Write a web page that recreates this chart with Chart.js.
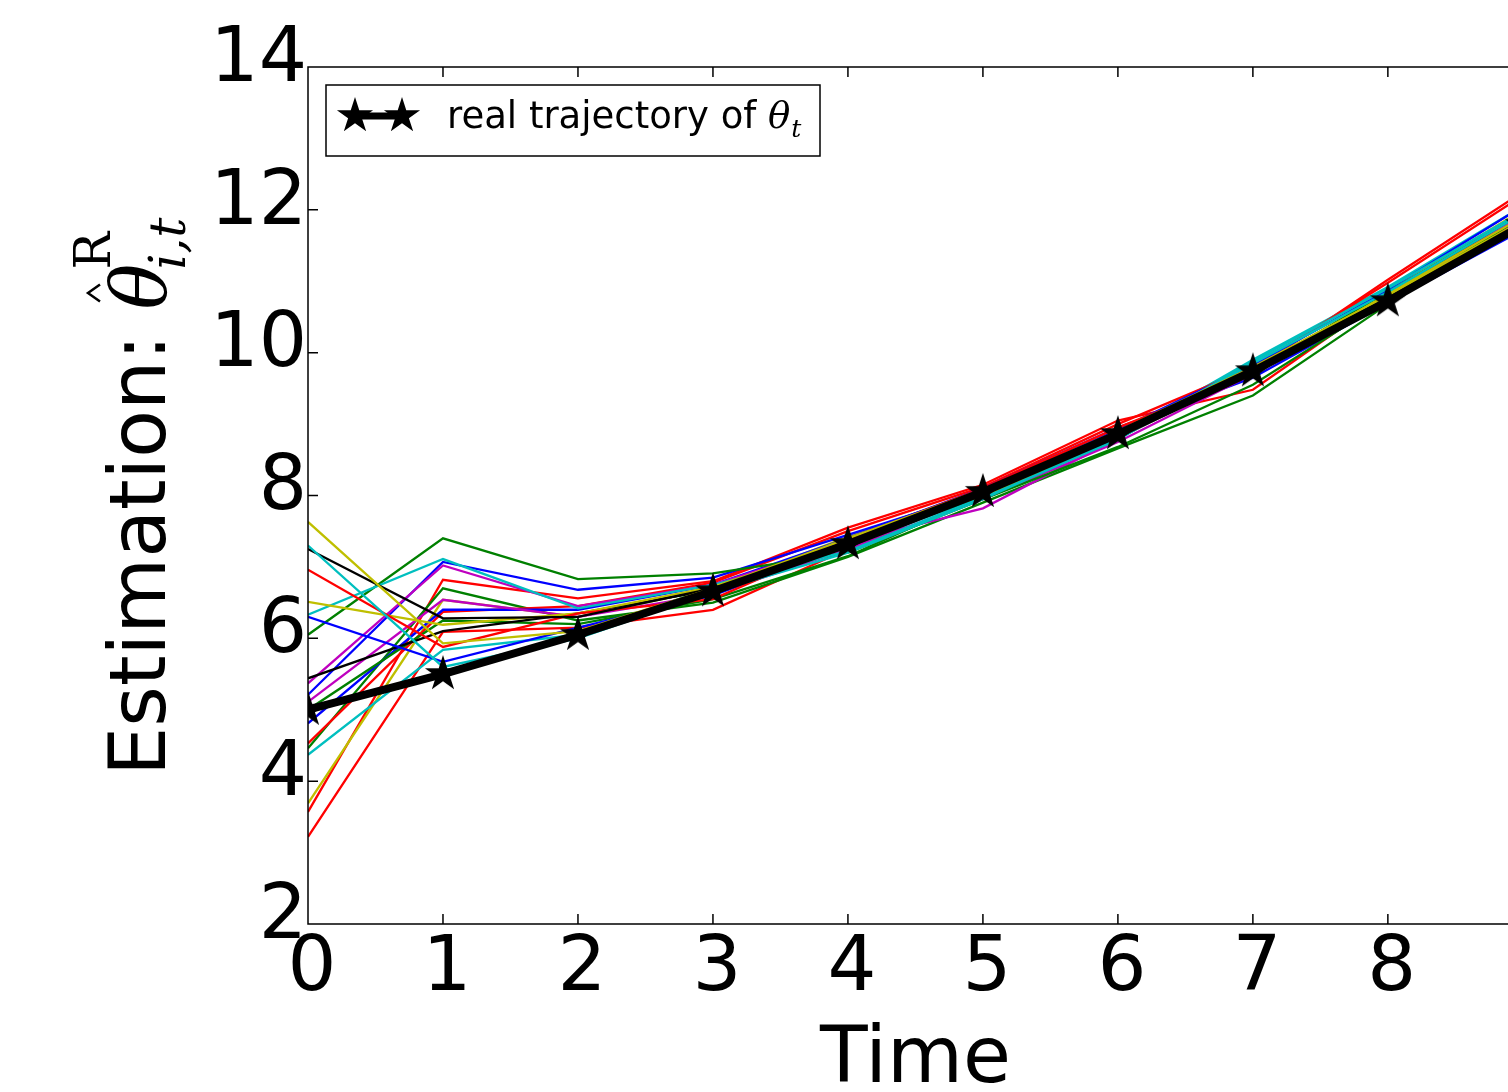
<!DOCTYPE html>
<html>
<head>
<meta charset="utf-8">
<script src="https://cdn.jsdelivr.net/npm/chart.js@4.4.1/dist/chart.umd.min.js"></script>
<style>
  html, body { margin: 0; padding: 0; background: #fff; overflow: hidden; }
  #wrap { width: 1508px; height: 1092px; position: relative; }
</style>
</head>
<body>
<div id="wrap"><canvas id="estChart"></canvas></div>
<script>
const timeSteps = [0, 1, 2, 3, 4, 5, 6, 7, 8, 9];
const xTicks = [0, 1, 2, 3, 4, 5, 6, 7, 8];
const yTicks = [2, 4, 6, 8, 10, 12, 14];

const realTrajectory = [5.0, 5.5, 6.05, 6.66, 7.32, 8.05, 8.86, 9.74, 10.72, 11.79];

// per-agent estimates (one line each)
const agent1 = [7.63, 5.93, 6.10, 6.70, 7.40, 8.08, 8.90, 9.80, 10.80, 11.85];
const agent2 = [7.30, 5.60, 6.00, 6.65, 7.20, 7.95, 8.80, 9.85, 10.85, 11.95];
const agent3 = [7.25, 6.28, 6.30, 6.70, 7.30, 8.05, 8.85, 9.75, 10.78, 11.80];
const agent4 = [6.96, 5.88, 6.35, 6.55, 7.38, 8.10, 8.95, 9.70, 10.75, 11.85];
const agent5 = [6.51, 6.19, 6.35, 6.72, 7.35, 8.00, 8.82, 9.72, 10.82, 11.90];
const agent6 = [6.33, 7.11, 6.42, 6.75, 7.22, 7.98, 8.78, 9.88, 10.90, 11.98];
const agent7 = [6.30, 5.67, 6.15, 6.60, 7.30, 8.02, 8.88, 9.78, 10.70, 11.75];
const agent8 = [6.05, 7.40, 6.83, 6.91, 7.20, 7.95, 8.68, 9.55, 10.75, 11.90];
const agent9 = [5.44, 6.10, 6.35, 6.68, 7.28, 8.05, 8.85, 9.75, 10.72, 11.78];
const agent10 = [5.37, 7.02, 6.45, 6.75, 7.35, 7.82, 8.80, 9.78, 10.80, 11.88];
const agent11 = [5.21, 7.07, 6.68, 6.85, 7.45, 8.05, 8.92, 9.82, 10.88, 12.05];
const agent12 = [5.11, 6.54, 6.30, 6.62, 7.25, 7.95, 8.75, 9.70, 10.78, 11.92];
const agent13 = [5.00, 6.25, 6.20, 6.55, 7.15, 8.00, 8.80, 9.75, 10.85, 11.95];
const agent14 = [4.81, 6.40, 6.40, 6.75, 7.40, 8.10, 8.95, 9.65, 10.70, 11.72];
const agent15 = [4.53, 6.37, 6.45, 6.78, 7.50, 8.12, 9.00, 9.80, 10.98, 12.20];
const agent16 = [4.46, 6.70, 6.25, 6.50, 7.14, 7.90, 8.66, 9.40, 10.68, 11.80];
const agent17 = [4.37, 5.84, 6.05, 6.72, 7.28, 8.00, 8.82, 9.90, 10.92, 12.05];
const agent18 = [3.69, 6.54, 6.30, 6.70, 7.42, 8.08, 8.90, 9.85, 10.85, 12.00];
const agent19 = [3.57, 6.82, 6.56, 6.80, 7.55, 8.15, 9.05, 9.48, 10.80, 11.95];
const agent20 = [3.22, 6.09, 6.15, 6.40, 7.25, 8.05, 8.85, 9.75, 11.02, 12.25];

const agentSeries = [agent1, agent2, agent3, agent4, agent5, agent6, agent7, agent8, agent9, agent10,
  agent11, agent12, agent13, agent14, agent15, agent16, agent17, agent18, agent19, agent20];
const agentColors = ["#bfbf00", "#00bfbf", "#000000", "#ff0000", "#bfbf00", "#00bfbf", "#0000ff",
  "#008000", "#000000", "#bf00bf", "#0000ff", "#bf00bf", "#008000", "#0000ff", "#ff0000",
  "#008000", "#00bfbf", "#bfbf00", "#ff0000", "#ff0000"];

const TICK_FONT = '"DejaVu Sans", sans-serif';

function makeStar(r) {
  const size = Math.ceil(r * 2 + 4);
  const c = document.createElement("canvas");
  c.width = size;
  c.height = size;
  const g = c.getContext("2d");
  drawStar(g, size / 2, size / 2, r);
  return c;
}

function drawStar(g, cx, cy, r) {
  g.beginPath();
  for (let k = 0; k < 10; k++) {
    const rad = k % 2 === 0 ? r : r * 0.382;
    const ang = -Math.PI / 2 + (k * Math.PI) / 5;
    g.lineTo(cx + rad * Math.cos(ang), cy + rad * Math.sin(ang));
  }
  g.closePath();
  g.fillStyle = "#000";
  g.fill();
}

const starImg = makeStar(19);

const toPoints = (arr) => arr.map((v, i) => ({ x: timeSteps[i], y: v }));

const datasets = [
  {
    data: toPoints(realTrajectory),
    borderColor: "#000",
    borderWidth: 8,
    pointStyle: starImg,
    pointRadius: 12,
    tension: 0,
    clip: 0,
  },
];
agentSeries.forEach((arr, i) => {
  datasets.push({
    data: toPoints(arr),
    borderColor: agentColors[i],
    borderWidth: 2.3,
    pointRadius: 0,
    tension: 0,
    clip: 0,
  });
});

// frame, inward ticks, axis titles, legend
const decorations = {
  id: "decorations",
  afterDraw(chart) {
    const { ctx, chartArea: a, scales } = chart;
    const xs = scales.x;
    const ys = scales.y;
    ctx.save();
    ctx.strokeStyle = "#000";
    ctx.lineWidth = 1.5;
    ctx.beginPath();
    ctx.moveTo(a.right + 2, a.top);
    ctx.lineTo(a.left, a.top);
    ctx.lineTo(a.left, a.bottom);
    ctx.lineTo(a.right + 2, a.bottom);
    xTicks.forEach((v) => {
      const px = xs.getPixelForValue(v);
      ctx.moveTo(px, a.bottom);
      ctx.lineTo(px, a.bottom - 10);
      ctx.moveTo(px, a.top);
      ctx.lineTo(px, a.top + 10);
    });
    yTicks.forEach((v) => {
      const py = ys.getPixelForValue(v);
      ctx.moveTo(a.left, py);
      ctx.lineTo(a.left + 10, py);
    });
    ctx.stroke();

    ctx.fillStyle = "#000";
    // x title
    ctx.font = "78px " + TICK_FONT;
    ctx.textAlign = "center";
    ctx.textBaseline = "alphabetic";
    ctx.fillText("Time", xs.getPixelForValue(4.5), 1082);

    // y title, rotated
    ctx.save();
    ctx.translate(165, 776);
    ctx.rotate(-Math.PI / 2);
    ctx.textAlign = "left";
    ctx.font = "78px " + TICK_FONT;
    const label = "Estimation: ";
    ctx.fillText(label, 0, 0);
    const w = ctx.measureText(label).width;
    ctx.font = 'italic 76px "DejaVu Serif", serif';
    ctx.fillText("\u03b8", w, 0);
    ctx.font = '50px "DejaVu Serif", serif';
    ctx.fillText("R", w + 40, -55);
    ctx.font = 'italic 50px "DejaVu Serif", serif';
    ctx.fillText("i,t", w + 40, 20);
    ctx.lineWidth = 2.5;
    ctx.beginPath();
    ctx.moveTo(w + 8, -65);
    ctx.lineTo(w + 16.5, -77);
    ctx.lineTo(w + 25, -65);
    ctx.stroke();
    ctx.restore();

    // legend box
    ctx.fillStyle = "#fff";
    ctx.fillRect(326, 85, 494, 71);
    ctx.strokeStyle = "#000";
    ctx.lineWidth = 1.5;
    ctx.strokeRect(326, 85, 494, 71);
    ctx.lineWidth = 7;
    ctx.beginPath();
    ctx.moveTo(355, 116);
    ctx.lineTo(402, 116);
    ctx.stroke();
    drawStar(ctx, 355, 116, 19);
    drawStar(ctx, 402, 116, 19);
    ctx.fillStyle = "#000";
    ctx.textAlign = "left";
    ctx.font = "37px " + TICK_FONT;
    const legText = "real trajectory of ";
    ctx.fillText(legText, 447, 128);
    const lw = ctx.measureText(legText).width;
    ctx.font = 'italic 37px "DejaVu Serif", serif';
    ctx.fillText("\u03b8", 447 + lw, 128);
    const tw = ctx.measureText("\u03b8").width;
    ctx.font = 'italic 25px "DejaVu Serif", serif';
    ctx.fillText("t", 447 + lw + tw + 1, 137);
    ctx.restore();
  },
};

new Chart(document.getElementById("estChart"), {
  type: "line",
  data: { datasets: datasets },
  plugins: [decorations],
  options: {
    responsive: true,
    maintainAspectRatio: false,
    animation: false,
    layout: { autoPadding: false, padding: { top: 67, right: 0, left: 0, bottom: 0 } },
    plugins: {
      legend: { display: false },
      tooltip: { enabled: false },
    },
    scales: {
      x: {
        type: "linear",
        min: 0,
        max: 8.89,
        afterBuildTicks: (s) => {
          s.ticks = xTicks.map((v) => ({ value: v }));
        },
        afterFit: (s) => {
          s.height = 168;
          s.paddingLeft = 0;
          s.paddingRight = 0;
        },
        grid: { display: false, drawTicks: false },
        border: { display: false },
        ticks: {
          color: "#000",
          font: { family: TICK_FONT, size: 77 },
          padding: 0,
          labelOffset: 4,
          maxRotation: 0,
          callback: (v) => String(v),
        },
      },
      y: {
        type: "linear",
        min: 2,
        max: 14,
        afterBuildTicks: (s) => {
          s.ticks = yTicks.map((v) => ({ value: v }));
        },
        afterFit: (s) => {
          s.width = 308;
          s.paddingTop = 0;
          s.paddingBottom = 0;
        },
        grid: { display: false, drawTicks: false },
        border: { display: false },
        ticks: {
          color: "#000",
          font: { family: TICK_FONT, size: 76 },
          padding: 1,
          labelOffset: -6,
          callback: (v) => String(v),
        },
      },
    },
  },
});
</script>
</body>
</html>
